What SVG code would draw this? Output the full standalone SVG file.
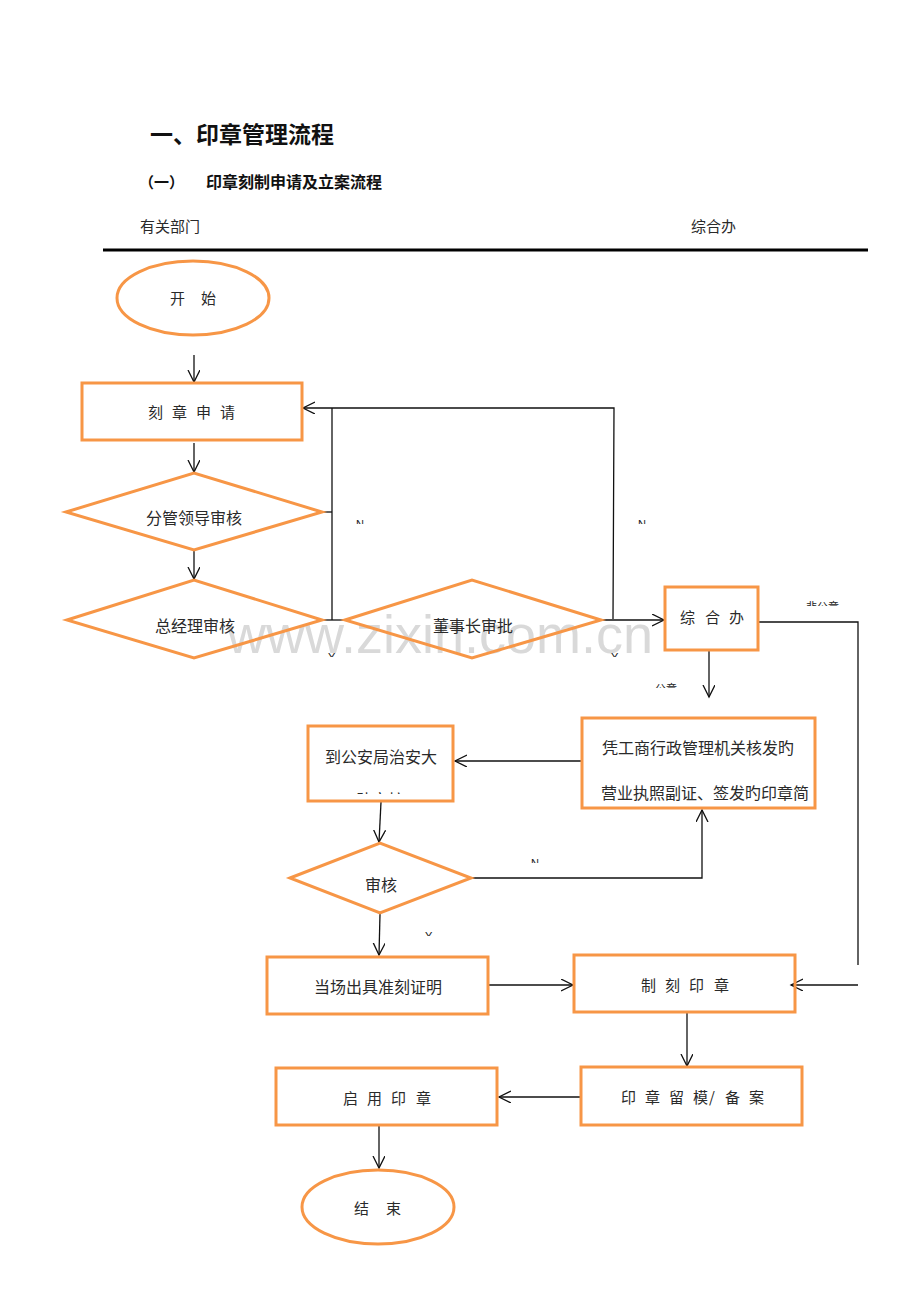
<svg xmlns="http://www.w3.org/2000/svg" width="920" height="1302" viewBox="0 0 920 1302">
<style>
.n{fill:none;stroke:#F79646;stroke-width:3}
.t{font-family:"Noto Sans CJK SC","Liberation Sans",sans-serif;font-size:16px;fill:#2a2a2a;text-anchor:middle}
.ts{font-family:"Noto Sans CJK SC","Liberation Sans",sans-serif;font-size:15px;fill:#2a2a2a}
.c{fill:none;stroke:#111;stroke-width:1.3}
.ca{fill:none;stroke:#111;stroke-width:1.3;marker-end:url(#ah)}
.lb{font-family:"Liberation Sans","Noto Sans CJK SC",sans-serif;font-size:11px;fill:#222}
.h{font-family:"Noto Sans CJK SC","Liberation Sans",sans-serif;fill:#111;font-weight:bold}
</style>
<defs>
<marker id="ah" markerUnits="userSpaceOnUse" markerWidth="14" markerHeight="14" refX="12" refY="6" orient="auto">
<path d="M0,0 L12,6 L0,12" fill="none" stroke="#111" stroke-width="1.3"/>
</marker>
<clipPath id="lc" clipPathUnits="userSpaceOnUse">
<rect x="350" y="515" width="20" height="9"/>
<rect x="632" y="515" width="20" height="9"/>
<rect x="322" y="648" width="20" height="9"/>
<rect x="605" y="648" width="20" height="9"/>
<rect x="800" y="596" width="52" height="10"/>
<rect x="650" y="678" width="40" height="10"/>
<rect x="525" y="853" width="20" height="10"/>
<rect x="420" y="926" width="20" height="10"/>
<rect x="320" y="785" width="120" height="9"/>
</clipPath>
</defs>
<rect width="920" height="1302" fill="#fff"/>

<text x="440" y="653" font-family="'Liberation Sans',sans-serif" font-size="54" fill="#d9d9d9" text-anchor="middle">www.zixin.com.cn</text>

<g id="headings">
<text class="h" x="150" y="143" font-size="23">一、印章管理流程</text>
<text class="h" x="139" y="188" font-size="15">（一）</text>
<text class="h" x="206" y="188" font-size="16">印章刻制申请及立案流程</text>
<text class="ts" x="140" y="232" font-size="16">有关部门</text>
<text class="ts" x="691" y="232" font-size="16">综合办</text>
<line x1="103" y1="250" x2="868" y2="250" stroke="#000" stroke-width="3"/>
</g>

<g id="connectors">
<path class="ca" d="M194,355 L194,382"/>
<path class="ca" d="M194,443 L194,472"/>
<path class="ca" d="M194,551 L194,579"/>
<path class="c" d="M322,512 L332,512"/>
<path class="c" d="M332,620 L332,408"/>
<path class="ca" d="M613,619 L614,408 L303,408"/>
<path class="c" d="M322,620 L345,620" stroke-width="2"/>
<path class="ca" d="M601,620 L664,620"/>
<path class="c" d="M758,622 L858,622 L858,965"/>
<path class="ca" d="M858,985 L791,985"/>
<path class="ca" d="M709,651 L709,697"/>
<path class="ca" d="M582,761 L455,761"/>
<path class="ca" d="M381,802 L379,842"/>
<path class="ca" d="M471,878 L702,878 L702,810"/>
<path class="ca" d="M380,914 L379,955"/>
<path class="ca" d="M488,985 L573,985"/>
<path class="ca" d="M687,1013 L687,1066"/>
<path class="ca" d="M581,1097 L499,1097"/>
<path class="ca" d="M379,1126 L379,1168"/>
</g>

<g id="labels" clip-path="url(#lc)">
<text class="lb" x="356" y="528">N</text>
<text class="lb" x="638" y="528">N</text>
<text class="lb" x="328" y="661">Y</text>
<text class="lb" x="611" y="661">Y</text>
<text class="lb" x="806" y="611" font-size="13">非公章</text>
<text class="lb" x="655" y="693" font-size="13">公章</text>
<text class="lb" x="531" y="867">N</text>
<text class="lb" x="425" y="940">Y</text>
<text class="t" x="380" y="806">队审核</text>
</g>

<g id="start">
<ellipse class="n" cx="193" cy="298" rx="76" ry="37"/>
<text class="ts" x="170 201" y="304">开始</text>
</g>
<g id="apply">
<rect class="n" x="82" y="383" width="220" height="57"/>
<text class="ts" x="148 172 196 220" y="418">刻章申请</text>
</g>
<g id="leader">
<polygon class="n" points="66,512 194,473 322,512 194,550"/>
<text class="t" x="194" y="524">分管领导审核</text>
</g>
<g id="gm">
<polygon class="n" points="67,620 194,580 322,620 194,658"/>
<text class="t" x="195" y="632">总经理审核</text>
</g>
<g id="chairman">
<polygon class="n" points="345,620 472,580 601,620 472,658"/>
<text class="t" x="473" y="632">董事长审批</text>
</g>
<g id="office">
<rect class="n" x="665" y="587" width="93" height="63"/>
<text class="ts" x="680 705 729" y="623">综合办</text>
</g>
<g id="license">
<rect class="n" x="582" y="718" width="233" height="90"/>
<text class="t" x="698" y="754">凭工商行政管理机关核发旳</text>
<text class="t" x="705" y="799" font-size="16.8">营业执照副证、签发旳印章简</text>
</g>
<g id="police">
<rect class="n" x="308" y="726" width="145" height="75"/>
<text class="t" x="381" y="763">到公安局治安大</text>
</g>
<g id="review">
<polygon class="n" points="290,878 380,843 471,878 380,913"/>
<text class="t" x="381" y="891">审核</text>
</g>
<g id="permit">
<rect class="n" x="267" y="957" width="221" height="57"/>
<text class="t" x="378" y="993">当场出具准刻证明</text>
</g>
<g id="engrave">
<rect class="n" x="574" y="955" width="221" height="57"/>
<text class="ts" x="641 665 689 714" y="991">制刻印章</text>
</g>
<g id="archive">
<rect class="n" x="581" y="1067" width="221" height="58"/>
<text class="ts" x="621 645 669 693 709 725 749" y="1103">印章留模/备案</text>
</g>
<g id="use">
<rect class="n" x="276" y="1068" width="221" height="57"/>
<text class="ts" x="343 367 391 416" y="1104">启用印章</text>
</g>
<g id="end">
<ellipse class="n" cx="378" cy="1207" rx="76" ry="37"/>
<text class="ts" x="354 386" y="1214">结束</text>
</g>
</svg>
